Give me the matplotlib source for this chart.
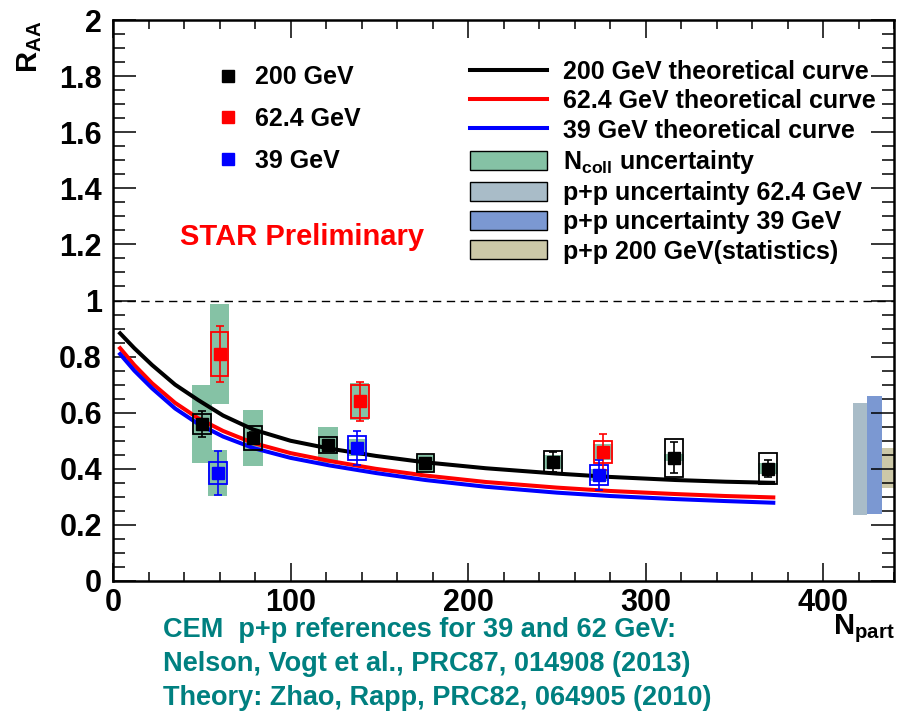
import matplotlib
matplotlib.use('Agg')
import matplotlib.pyplot as plt
from matplotlib.patches import Rectangle, Patch
from matplotlib.lines import Line2D
from matplotlib.ticker import MultipleLocator

plt.rcParams['font.family'] = ['Liberation Sans', 'DejaVu Sans']
plt.rcParams['font.weight'] = 'bold'
plt.rcParams['mathtext.default'] = 'regular'

# ---------------- data ----------------
npart_200 = [50, 79, 121, 176, 248, 316, 369]
raa_200 = [0.56, 0.51, 0.485, 0.42, 0.425, 0.44, 0.40]
stat_200 = [0.045, 0.02, 0.018, 0.018, 0.035, 0.055, 0.03]
sys_200 = [0.035, 0.043, 0.03, 0.032, 0.04, 0.068, 0.055]
ncoll_200 = [0.14, 0.10, 0.063, 0.03, 0.025, 0.012, 0.02]

npart_62 = [60, 139, 276]
raa_62 = [0.81, 0.64, 0.46]
stat_62 = [0.10, 0.07, 0.065]
sys_62 = [0.078, 0.06, 0.04]
ncoll_62 = [0.178, 0.065, 0.03]

npart_39 = [59, 137.5, 274]
raa_39 = [0.385, 0.475, 0.378]
stat_39 = [0.08, 0.06, 0.053]
sys_39 = [0.038, 0.043, 0.035]
ncoll_39 = [0.083, 0.03, 0.02]

curve_x = [4, 12, 22, 35, 48, 62, 79, 100, 122, 148, 176, 210, 250, 280, 317, 345, 372]
curve_200 = [0.883, 0.83, 0.77, 0.70, 0.645, 0.59, 0.54, 0.50, 0.472, 0.446, 0.423, 0.402, 0.383, 0.371, 0.36, 0.354, 0.35]
curve_62 = [0.83, 0.77, 0.705, 0.635, 0.58, 0.535, 0.492, 0.456, 0.428, 0.40, 0.376, 0.353, 0.333, 0.321, 0.31, 0.303, 0.298]
curve_39 = [0.809, 0.75, 0.687, 0.615, 0.56, 0.515, 0.474, 0.439, 0.412, 0.385, 0.36, 0.336, 0.315, 0.303, 0.292, 0.285, 0.279]

pp_x = [421, 429, 437]
pp_lo = [0.235, 0.24, 0.33]
pp_hi = [0.635, 0.66, 0.475]
pp_colors = ['#a9bcc8', '#7b98d2', '#ccc8a8']

green = '#85c2a5'

fig = plt.figure(figsize=(8.97, 7.13), dpi=100)
ax = fig.add_axes([113/897, 132/713, 781/897, 561/713])
ax.set_xlim(0, 440)
ax.set_ylim(0, 2)

# p+p bands on the right
for x, lo, hi, c in zip(pp_x, pp_lo, pp_hi, pp_colors):
    ax.bar(x, hi - lo, bottom=lo, width=8, color=c, edgecolor='none', zorder=1)

# dashed unity line
ax.axhline(1.0, color='black', lw=1.0, ls=(0, (6, 4)), zorder=1)

hw_box = 5
hw_g = 5.5


def draw_set(xs, ys, stats, syss, ncs, color):
    for x, y, nc in zip(xs, ys, ncs):
        ax.add_patch(Rectangle((x - hw_g, y - nc), 2 * hw_g, 2 * nc,
                               facecolor=green, edgecolor='none', zorder=1.5))
    for x, y, s in zip(xs, ys, syss):
        ax.add_patch(Rectangle((x - hw_box, y - s), 2 * hw_box, 2 * s,
                               fill=False, edgecolor=color, lw=1.3, zorder=4))
    ax.errorbar(xs, ys, yerr=stats, fmt='s', color=color, ms=8.5,
                capsize=3, elinewidth=1.2, capthick=1.2, zorder=5)


draw_set(npart_200, raa_200, stat_200, sys_200, ncoll_200, 'black')
draw_set(npart_62, raa_62, stat_62, sys_62, ncoll_62, '#ff0000')
draw_set(npart_39, raa_39, stat_39, sys_39, ncoll_39, '#0000ff')

ax.plot(curve_x, curve_200, color='black', lw=2.9, zorder=3)
ax.plot(curve_x, curve_62, color='#ff0000', lw=2.9, zorder=3)
ax.plot(curve_x, curve_39, color='#0000ff', lw=2.9, zorder=3)

# axes styling
for s in ax.spines.values():
    s.set_linewidth(1.8)
ax.xaxis.set_major_locator(MultipleLocator(100))
ax.xaxis.set_minor_locator(MultipleLocator(20))
ax.yaxis.set_major_locator(MultipleLocator(0.2))
ax.yaxis.set_minor_locator(MultipleLocator(0.05))
ax.tick_params(axis='both', which='both', direction='in', top=True, right=True, width=1.1)
ax.tick_params(axis='y', which='major', length=16.5, pad=8, labelsize=22)
ax.tick_params(axis='y', which='minor', length=8.5)
ax.tick_params(axis='x', which='major', length=13, pad=5, labelsize=22)
ax.tick_params(axis='x', which='minor', length=6.5)
ax.set_yticks([0, 0.2, 0.4, 0.6, 0.8, 1, 1.2, 1.4, 1.6, 1.8, 2])
ax.set_yticklabels(['0', '0.2', '0.4', '0.6', '0.8', '1', '1.2', '1.4', '1.6', '1.8', '2'])
for lab in ax.get_xticklabels() + ax.get_yticklabels():
    lab.set_fontweight('bold')

# axis titles
fig.text(30/897, 1 - 47/713, r'R$_{AA}$', rotation=90, ha='center', va='center',
         fontsize=21, fontweight='bold')
fig.text(895/897, 1 - 612/713, r'N$_{part}$', ha='right', va='top',
         fontsize=21, fontweight='bold')

# left legend (markers)
h1 = [Line2D([], [], marker='s', ls='none', color=c, ms=8.5)
      for c in ['black', '#ff0000', '#0000ff']]
leg1 = ax.legend(h1, ['200 GeV', '62.4 GeV', '39 GeV'], loc='upper left',
                 bbox_to_anchor=(215.5/897, 1 - 65.5/713), bbox_transform=fig.transFigure,
                 frameon=False, fontsize=18, handlelength=1.0, handletextpad=0.58,
                 labelspacing=0.7, borderpad=0, borderaxespad=0)
for t in leg1.get_texts():
    t.set_fontweight('bold')
ax.add_artist(leg1)

# right legend
h2 = [Line2D([], [], color='black', lw=2.9),
      Line2D([], [], color='#ff0000', lw=2.9),
      Line2D([], [], color='#0000ff', lw=2.9),
      Patch(facecolor=green, edgecolor='black', lw=1.0),
      Patch(facecolor=pp_colors[0], edgecolor='black', lw=1.0),
      Patch(facecolor=pp_colors[1], edgecolor='black', lw=1.0),
      Patch(facecolor=pp_colors[2], edgecolor='black', lw=1.0)]
l2 = ['200 GeV theoretical curve', '62.4 GeV theoretical curve', '39 GeV theoretical curve',
      r'N$_{coll}$ uncertainty', 'p+p uncertainty 62.4 GeV', 'p+p uncertainty 39 GeV',
      'p+p 200 GeV(statistics)']
leg2 = ax.legend(h2, l2, loc='upper left',
                 bbox_to_anchor=(470/897, 1 - 60/713), bbox_transform=fig.transFigure,
                 frameon=False, fontsize=18, handlelength=3.08, handleheight=0.8,
                 handletextpad=0.64, labelspacing=0.21, borderpad=0, borderaxespad=0)
for t in leg2.get_texts():
    t.set_fontweight('bold')

# annotations
ax.text(180/897, 1 - 237/713, 'STAR Preliminary', transform=fig.transFigure,
        color='#ff0000', fontsize=21, fontweight='bold', ha='left', va='center')

teal = '#008080'
for txt, yp in [('CEM  p+p references for 39 and 62 GeV:', 630),
                ('Nelson, Vogt et al., PRC87, 014908 (2013)', 664),
                ('Theory: Zhao, Rapp, PRC82, 064905 (2010)', 698)]:
    fig.text(163/897, 1 - yp/713, txt, color=teal, fontsize=19.5, fontweight='bold',
             ha='left', va='center')

fig.savefig('out.png', dpi=100)
